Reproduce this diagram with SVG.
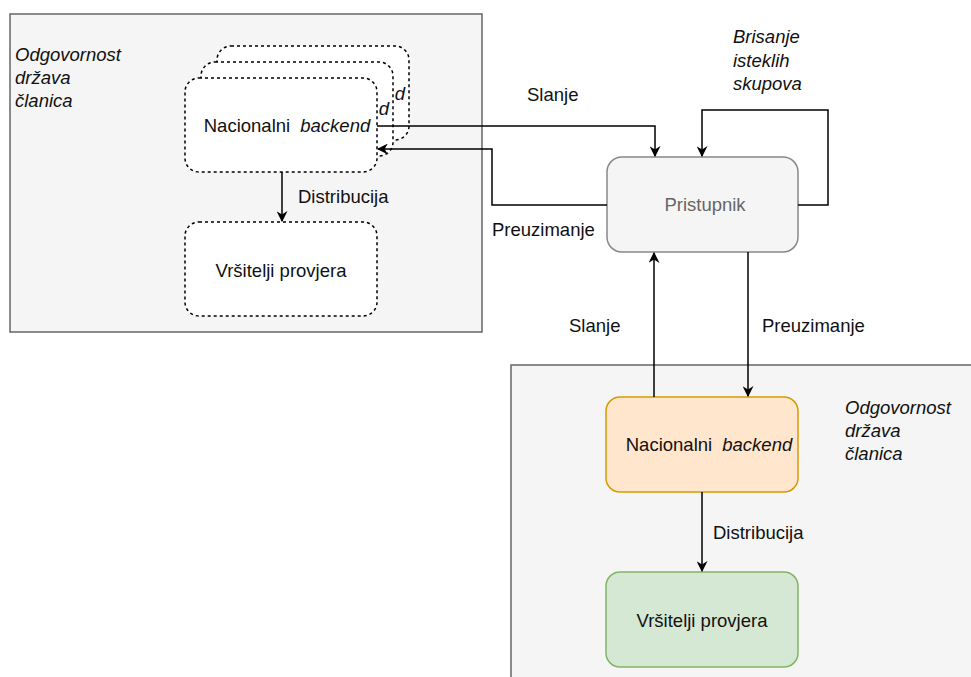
<svg xmlns="http://www.w3.org/2000/svg" width="971" height="677" viewBox="0 0 971 677">
<defs>
<marker id="arr" viewBox="0 0 10 10" refX="9" refY="5" markerWidth="11" markerHeight="11" markerUnits="userSpaceOnUse" orient="auto">
<path d="M0,0 L10,5 L0,10 L3,5 Z" fill="#000"/>
</marker>
</defs>
<style>
.cont{fill:#f5f5f5;stroke:#666;stroke-width:1.5}
.dash{fill:#fff;stroke:#000;stroke-width:1.5;stroke-dasharray:3 3}
.t{font-family:"Liberation Sans",Arial,sans-serif;font-size:18.5px;fill:#111}
.i{font-style:italic}
.c{text-anchor:middle}
.e{text-anchor:end}
.edge{fill:none;stroke:#000;stroke-width:1.5}
</style>
<g id="container-left"><rect class="cont" x="10" y="14" width="472" height="318"/>
<text class="t i" x="15" y="61" font-size="19">Odgovornost</text>
<text class="t i" x="15" y="84">država</text>
<text class="t i" x="15" y="107">članica</text>
</g>
<g id="container-right"><rect class="cont" x="511" y="365" width="470" height="320"/>
<text class="t i" x="845" y="414">Odgovornost</text>
<text class="t i" x="845" y="437">država</text>
<text class="t i" x="845" y="460">članica</text>
</g>
<g id="backend-stack-3"><rect class="dash" x="217" y="46" width="192" height="94" rx="14"/>
<text class="t i e" x="405" y="100">d</text></g>
<g id="backend-stack-2"><rect class="dash" x="201" y="62" width="192" height="94" rx="14"/>
<text class="t i e" x="389" y="115">d</text></g>
<g id="backend-left"><rect class="dash" x="185" y="78" width="192" height="94" rx="14"/>
<text class="t c" x="287" y="132">Nacionalni <tspan class="i" dx="5">backend</tspan></text></g>
<g id="verifiers-left"><rect class="dash" x="185" y="222" width="192" height="94" rx="14"/>
<text class="t c" x="281" y="277">Vršitelji provjera</text></g>
<g id="gateway"><rect x="607" y="157" width="191" height="95" rx="15" fill="#f5f5f5" stroke="#888" stroke-width="1.5"/>
<text class="t c" x="705" y="211" style="fill:#666">Pristupnik</text></g>
<g id="backend-right"><rect x="606" y="397" width="192" height="95" rx="14" fill="#ffe6cc" stroke="#d79b00" stroke-width="1.5"/>
<text class="t c" x="709" y="451">Nacionalni <tspan class="i" dx="5">backend</tspan></text></g>
<g id="verifiers-right"><rect x="606" y="572" width="192" height="95" rx="14" fill="#d5e8d4" stroke="#82b366" stroke-width="1.5"/>
<text class="t c" x="702" y="627">Vršitelji provjera</text></g>
<g id="connectors">
<path class="edge" d="M377,126 H655 V156" marker-end="url(#arr)"/>
<path class="edge" d="M607,205 H492 V149 H378" marker-end="url(#arr)"/>
<path class="edge" d="M798,205 H828 V110 H702 V156" marker-end="url(#arr)"/>
<path class="edge" d="M282,172 V221" marker-end="url(#arr)"/>
<path class="edge" d="M654,397 V253" marker-end="url(#arr)"/>
<path class="edge" d="M748,252 V396" marker-end="url(#arr)"/>
<path class="edge" d="M702,492 V571" marker-end="url(#arr)"/>
<text class="t" x="527" y="101">Slanje</text>
<text class="t" x="492" y="236">Preuzimanje</text>
<text class="t" x="298" y="203">Distribucija</text>
<text class="t i" x="733" y="43">Brisanje</text>
<text class="t i" x="733" y="67">isteklih</text>
<text class="t i" x="733" y="90">skupova</text>
<text class="t" x="569" y="332">Slanje</text>
<text class="t" x="762" y="332">Preuzimanje</text>
<text class="t" x="713" y="539">Distribucija</text>
</g>
</svg>
